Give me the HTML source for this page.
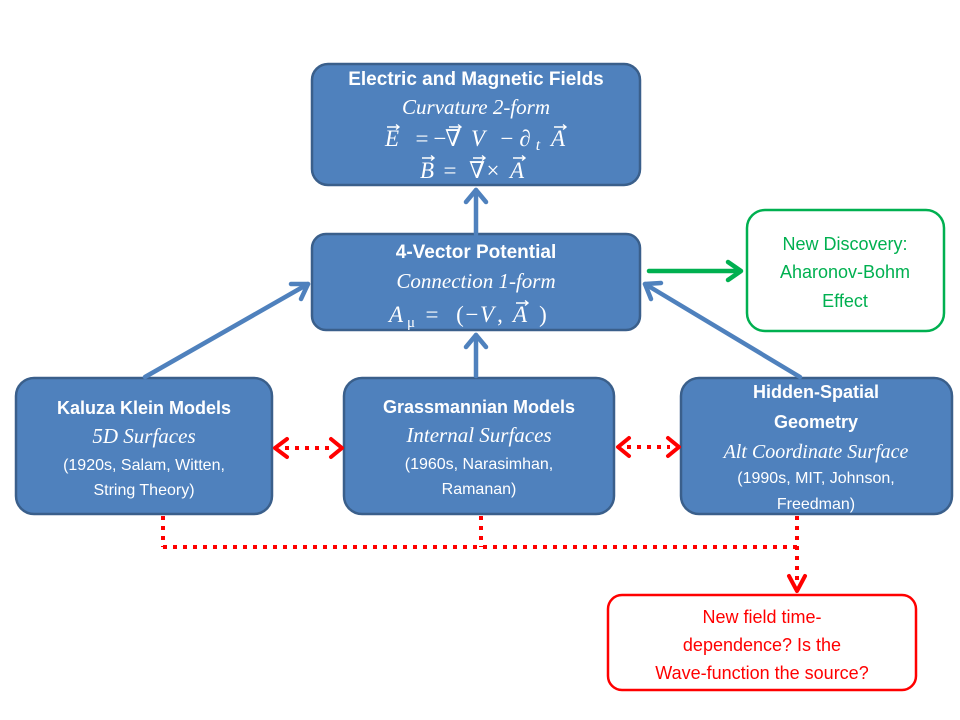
<!DOCTYPE html>
<html><head><meta charset="utf-8"><style>
html,body{margin:0;padding:0;background:#fff;}
svg{display:block;}
.t{font-family:"Liberation Sans",sans-serif;fill:#fff;text-anchor:middle;}
.b{font-family:"Liberation Sans Narrow","Liberation Sans",sans-serif;fill:#fff;text-anchor:middle;font-weight:bold;}
.s{font-family:"Liberation Serif",serif;fill:#fff;text-anchor:middle;font-style:italic;}
.m{font-family:"Liberation Serif","DejaVu Serif",serif;fill:#fff;text-anchor:middle;font-size:23px;}
.mi{font-style:italic;}
</style></head><body>
<svg width="960" height="720" viewBox="0 0 960 720" xmlns="http://www.w3.org/2000/svg">
<g fill="#4f81bd" stroke="#3a5f8b" stroke-width="2.5">
<rect x="312" y="64" width="328" height="121" rx="16"/>
<rect x="312" y="234" width="328" height="96" rx="14"/>
<rect x="16" y="378" width="256" height="136" rx="18"/>
<rect x="344" y="378" width="270" height="136" rx="18"/>
<rect x="681" y="378" width="271" height="136" rx="18"/>
</g>
<rect x="747" y="210" width="197" height="121" rx="18" fill="#fff" stroke="#00b050" stroke-width="2.5"/>
<rect x="608" y="595" width="308" height="95" rx="14" fill="#fff" stroke="#ff0000" stroke-width="2.5"/>

<g stroke="#4f81bd" stroke-width="4.5" fill="none" stroke-linecap="round" stroke-linejoin="round">
<line x1="476" y1="234" x2="476" y2="190"/><polyline points="466,202 476,190 486,202"/>
<line x1="476" y1="376" x2="476" y2="335"/><polyline points="466,347 476,335 486,347"/>
<line x1="145" y1="377" x2="308" y2="284"/><polyline points="291,284 308,284 301,299"/>
<line x1="800" y1="377" x2="645" y2="284"/><polyline points="661,283 645,284 651,299"/>
</g>
<g stroke="#00b050" stroke-width="4.5" fill="none" stroke-linecap="round" stroke-linejoin="round">
<line x1="649" y1="271" x2="740" y2="271"/><polyline points="728,262 741,271 728,280"/>
</g>
<g stroke="#ff0000" stroke-width="4" fill="none" stroke-dasharray="4 6">
<line x1="163" y1="516" x2="163" y2="547"/>
<line x1="163" y1="547" x2="797" y2="547"/>
<line x1="481" y1="516" x2="481" y2="547"/>
<line x1="797" y1="516" x2="797" y2="586"/>
<line x1="285" y1="448" x2="333" y2="448"/>
<line x1="627" y1="447" x2="670" y2="447"/>
</g>
<g stroke="#ff0000" stroke-width="4" fill="none" stroke-linecap="round" stroke-linejoin="round">
<polyline points="789,576 797,591 805,576"/>
<polyline points="287,439 275,448 287,457"/>
<polyline points="331,439 342,448 331,457"/>
<polyline points="629,438 618,447 629,456"/>
<polyline points="668,438 679,447 668,456"/>
</g>

<!-- top box text -->
<text class="b" x="476" y="85" font-size="19">Electric and Magnetic Fields</text>
<text class="s" x="476" y="114" font-size="21">Curvature 2-form</text>
<g class="m">
<text x="392" y="146" class="mi">E</text>
<text x="422" y="146">=</text>
<text x="440" y="146">−</text>
<text x="453" y="146" class="mi">∇</text>
<text x="478" y="146" class="mi">V</text>
<text x="507" y="146">−</text>
<text x="525" y="146" class="mi">∂</text>
<text x="538" y="150" class="mi" font-size="16">t</text>
<text x="558" y="146" class="mi">A</text>
<text x="427" y="178" class="mi">B</text>
<text x="450" y="178">=</text>
<text x="477" y="178" class="mi">∇</text>
<text x="493" y="178">×</text>
<text x="517" y="178" class="mi">A</text>
<text x="396" y="322" class="mi">A</text>
<text x="411" y="327" font-size="15">μ</text>
<text x="432" y="322">=</text>
<text x="460" y="322">(</text>
<text x="472" y="322">−</text>
<text x="487" y="322" class="mi">V</text>
<text x="500" y="322">,</text>
<text x="520" y="322" class="mi">A</text>
<text x="543" y="322">)</text>
</g>
<g stroke="#fff" stroke-width="1.4" fill="none">
<path d="M387 127h12m-3-2.5l3 2.5-3 2.5"/><path d="M449 127h12m-3-2.5l3 2.5-3 2.5"/><path d="M554 127h12m-3-2.5l3 2.5-3 2.5"/>
<path d="M422 158h12m-3-2.5l3 2.5-3 2.5"/><path d="M473 158h12m-3-2.5l3 2.5-3 2.5"/><path d="M513 158h12m-3-2.5l3 2.5-3 2.5"/>
<path d="M516 303h12m-3-2.5l3 2.5-3 2.5"/>
</g>

<!-- middle -->
<text class="b" x="476" y="258" font-size="19">4-Vector Potential</text>
<text class="s" x="476" y="288" font-size="21">Connection 1-form</text>

<!-- green -->
<g font-family="Liberation Sans,sans-serif" font-size="18" fill="#00b050" text-anchor="middle">
<text x="845" y="250">New Discovery:</text>
<text x="845" y="278">Aharonov-Bohm</text>
<text x="845" y="307">Effect</text>
</g>

<!-- KK -->
<text class="b" x="144" y="414" font-size="18">Kaluza Klein Models</text>
<text class="s" x="144" y="443" font-size="21">5D Surfaces</text>
<text class="t" x="144" y="470" font-size="16">(1920s,  Salam, Witten,</text>
<text class="t" x="144" y="495" font-size="16">String Theory)</text>
<!-- Grass -->
<text class="b" x="479" y="413" font-size="18">Grassmannian Models</text>
<text class="s" x="479" y="442" font-size="21">Internal Surfaces</text>
<text class="t" x="479" y="469" font-size="16">(1960s, Narasimhan,</text>
<text class="t" x="479" y="494" font-size="16">Ramanan)</text>
<!-- Hidden -->
<text class="b" x="816" y="398" font-size="18">Hidden-Spatial</text>
<text class="b" x="816" y="428" font-size="18">Geometry</text>
<text class="s" x="816" y="458" font-size="20">Alt Coordinate Surface</text>
<text class="t" x="816" y="483" font-size="16">(1990s, MIT, Johnson,</text>
<text class="t" x="816" y="509" font-size="16">Freedman)</text>

<!-- red -->
<g font-family="Liberation Sans,sans-serif" font-size="18" fill="#ff0000" text-anchor="middle">
<text x="762" y="623">New field time-</text>
<text x="762" y="651">dependence? Is the</text>
<text x="762" y="679">Wave-function the source?</text>
</g>
</svg>
</body></html>
